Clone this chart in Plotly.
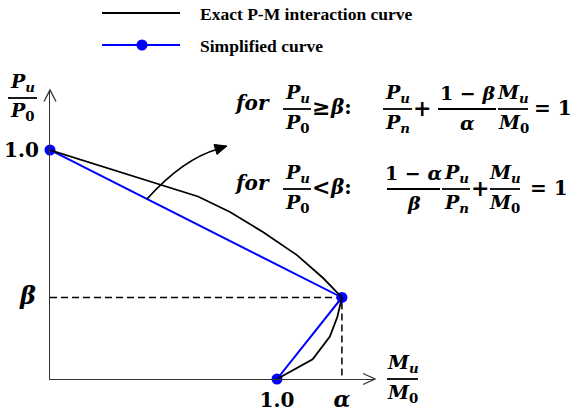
import plotly.graph_objects as go

# Normalised interaction diagram: M/M0 on x, P/P0 on y
alpha = 1.286
beta = 0.356

exact_m = [0.0, 0.652, 0.793, 0.938, 1.088, 1.203, alpha, 1.266, 1.233, 1.157, 1.0]
exact_p = [1.0, 0.797, 0.729, 0.642, 0.541, 0.441, beta, 0.272, 0.185, 0.086, 0.0]

simple_m = [0.0, alpha, 1.0]
simple_p = [1.0, beta, 0.0]

x_tick_vals = [1.0, alpha]
x_tick_text = ["1.0", '<span style="font-size:22px"><i>α</i></span>']
y_tick_vals = [beta, 1.0]
y_tick_text = ['<span style="font-size:24px"><i>β</i></span><span style="font-size:8px">&nbsp;</span>', "1.0"]

legend_labels = ["Exact P-M interaction curve", "Simplified curve"]

W, H = 574, 412
L, R, T, B = 50, 199, 90, 33
SX, SY = 227, 229          # pixels per unit on each axis
MATH = "DejaVu Serif, serif"
LEG = "Liberation Serif, Times New Roman, serif"
BLUE = "#0000ff"
AXIS = "#333333"


def px(x):
    return (x - L) / (W - L - R)


def py(y):
    return (H - B - y) / (H - T - B)


fig = go.Figure()

# guide lines to the balance point
fig.add_trace(go.Scatter(
    x=[0, alpha, alpha], y=[beta, beta, 0], mode="lines",
    line=dict(color="black", width=1.5, dash="7px,4px"),
    hoverinfo="skip", showlegend=False, cliponaxis=False))

fig.add_trace(go.Scatter(
    x=simple_m, y=simple_p, mode="lines+markers", name=legend_labels[1],
    line=dict(color=BLUE, width=2), marker=dict(color=BLUE, size=11),
    showlegend=False, cliponaxis=False))

fig.add_trace(go.Scatter(
    x=exact_m, y=exact_p, mode="lines", name=legend_labels[0],
    line=dict(color="black", width=1.8),
    showlegend=False, cliponaxis=False))

shapes = []
annotations = []


def line(x0, y0, x1, y1, color="black", width=2):
    shapes.append(dict(type="line", xref="paper", yref="paper",
                       x0=px(x0), y0=py(y0), x1=px(x1), y1=py(y1),
                       line=dict(color=color, width=width)))


def text(x, y, s, size=19, family=MATH, xanchor="center"):
    annotations.append(dict(xref="paper", yref="paper", x=px(x), y=py(y),
                            text="<b>" + s + "</b>", showarrow=False,
                            xanchor=xanchor, yanchor="middle",
                            font=dict(family=family, size=size, color="black")))


def frac(x0, x1, bar_y, num, den, size=19):
    cx = (x0 + x1) / 2
    line(x0, bar_y, x1, bar_y, width=1.8)
    text(cx, bar_y - 16, num, size)
    text(cx, bar_y + 14, den, size)


PU = "<i>P</i><sub><i>u</i></sub>"
P0 = "<i>P</i><sub>0</sub>"
PN = "<i>P</i><sub><i>n</i></sub>"
MU = "<i>M</i><sub><i>u</i></sub>"
M0 = "<i>M</i><sub>0</sub>"

# axis arrowheads
shapes.append(dict(type="path", xref="paper", yref="paper",
                   path=f"M{px(44)},{py(101.5)} L{px(50)},{py(90)} L{px(56)},{py(101.5)}",
                   line=dict(color=AXIS, width=1.3)))
shapes.append(dict(type="path", xref="paper", yref="paper",
                   path=f"M{px(363)},{py(373.5)} L{px(375)},{py(379)} L{px(363)},{py(384.5)}",
                   line=dict(color=AXIS, width=1.3)))

# axis titles
frac(8, 37, 98, PU, P0)
frac(387, 418, 379, MU, M0)

# curved pointer from the simplified line to the equations
shapes.append(dict(type="path", xref="paper", yref="paper",
                   path=f"M{px(147)},{py(199)} Q{px(183)},{py(159)} {px(218)},{py(149)}",
                   line=dict(color="black", width=1.8)))
shapes.append(dict(type="path", xref="paper", yref="paper",
                   path=f"M{px(227)},{py(146)} L{px(214)},{py(144.5)} L{px(217)},{py(154.5)} Z",
                   fillcolor="black", line=dict(color="black", width=1)))

# equation for the upper branch
b1 = 109
text(251.5, b1 - 6, "<i>for</i>", size=20)
frac(283, 311, b1, PU, P0)
text(321, b1 - 2, "≥", size=22)
text(341, b1 - 2, "<i>β</i>:", size=20)
frac(383, 412, b1, PU, PN)
text(421.5, b1 - 1, "+", size=22)
frac(438, 496, b1, "1 − <i>β</i>", "<i>α</i>")
frac(498, 528, b1, MU, M0)
text(553, b1 - 1, "= 1", size=20)

# equation for the lower branch
b2 = 189
text(251.5, b2 - 6, "<i>for</i>", size=20)
frac(283, 311, b2, PU, P0)
text(321, b2 - 2, "<", size=22)
text(341, b2 - 2, "<i>β</i>:", size=20)
frac(387, 440, b2, "1 − <i>α</i>", "<i>β</i>")
frac(442, 470, b2, PU, PN)
text(480, b2 - 1, "+", size=22)
frac(490, 520, b2, MU, M0)
text(549, b2 - 1, "= 1", size=20)

# legend
line(102, 13, 180, 13, color="black", width=2)
line(102, 45, 180, 45, color=BLUE, width=2)
shapes.append(dict(type="circle", xref="paper", yref="paper",
                   x0=px(136.5), x1=px(147.5), y0=py(39.5), y1=py(50.5),
                   fillcolor=BLUE, line=dict(color=BLUE, width=0)))
text(198, 14, legend_labels[0], size=17.5, family=LEG, xanchor="left")
text(198, 46, legend_labels[1], size=17.5, family=LEG, xanchor="left")

fig.update_layout(
    width=W, height=H,
    margin=dict(l=L, r=R, t=T, b=B, pad=0, autoexpand=False),
    paper_bgcolor="white", plot_bgcolor="white",
    shapes=shapes, annotations=annotations,
    showlegend=False,
    xaxis=dict(range=[0, (W - L - R) / SX], showgrid=False, zeroline=False,
               automargin=False,
               showline=True, linecolor=AXIS, linewidth=1.3,
               tickmode="array", tickvals=x_tick_vals, ticktext=x_tick_text,
               ticks="", ticklabelstandoff=3,
               tickfont=dict(family=MATH, size=20, color="black", weight="bold")),
    yaxis=dict(range=[0, (H - T - B) / SY], showgrid=False, zeroline=False,
               automargin=False,
               showline=True, linecolor=AXIS, linewidth=1.3,
               tickmode="array", tickvals=y_tick_vals, ticktext=y_tick_text,
               ticks="", ticklabelstandoff=6,
               tickfont=dict(family=MATH, size=20, color="black", weight="bold")),
)

fig.write_html("out.html", config={"displayModeBar": False})
